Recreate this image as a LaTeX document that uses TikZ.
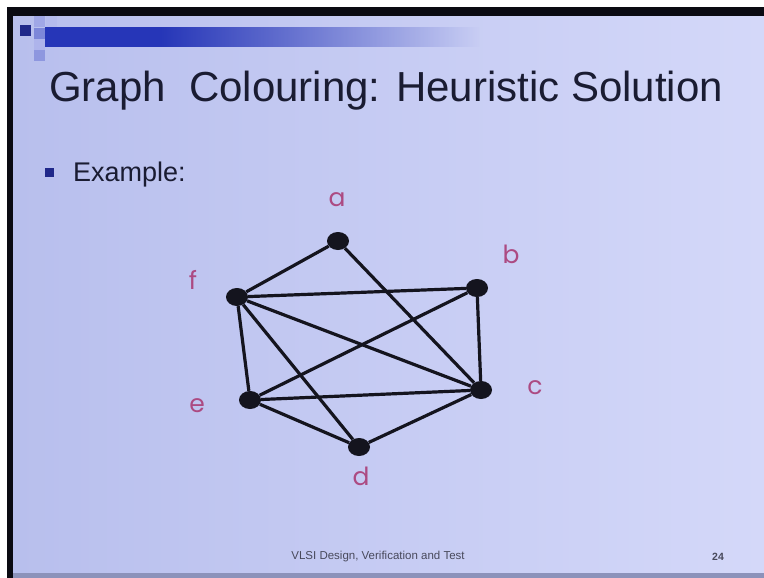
\documentclass[tikz,border=0pt]{standalone}
\usepackage{fontspec}
\setmainfont{Liberation Sans}
\newfontfamily\lblfont{Poppins}
\usepackage{tikz}
\usetikzlibrary{shapes.geometric, positioning, fadings}
\definecolor{sframe}{RGB}{10,10,18}
\definecolor{sbg}{RGB}{212,216,249}
\definecolor{sbgl}{RGB}{224,227,252}
\definecolor{sbgd}{RGB}{184,191,237}
\definecolor{sfoot}{RGB}{140,146,186}
\definecolor{snavy}{RGB}{32,40,138}
\definecolor{sbar}{RGB}{38,54,184}
\definecolor{stext}{RGB}{26,28,50}
\definecolor{spink}{RGB}{172,74,130}
\definecolor{sedge}{RGB}{20,20,30}

\begin{document}
\begin{tikzpicture}[
  x=1pt, y=-1pt,
  dot/.style={ellipse,fill=sedge,minimum width=22pt,minimum height=18pt,inner sep=0pt},
  lbl/.style={font=\lblfont\fontsize{25}{29}\selectfont,text=spink,inner sep=0pt},
  edge/.style={line width=3.2pt,color=sedge},
  sq/.style={inner sep=0pt,minimum size=11pt},
  title/.style={font=\fontsize{42}{50}\selectfont,text=stext,inner sep=0pt,anchor=base west},
  foot/.style={font=\fontsize{11.5}{13}\selectfont,text=stext!80,inner sep=0pt}
]
  \useasboundingbox (0,0) rectangle (764,578);
  \fill[white] (0,0) rectangle (764,578);
  % slide background and frame
  \shade[left color=sbgd,middle color=sbgl,right color=sbg] (13,16) rectangle (764,573);
  \fill[sframe] (7,7) rectangle (764,16);
  \fill[sframe] (7,7) rectangle (13,578);
  \fill[sfoot] (13,573) rectangle (764,578);

  % header squares and bar
  \node[sq,fill=snavy,anchor=north west] (sq1) at (20,25) {};
  \node[sq,fill=sbar!30!sbg,anchor=north west] (sq2) at (34,16) {};
  \node[sq,fill=sbar!50!sbg,below=0pt of sq2] (sq3) {};
  \node[sq,fill=sbar!22!sbg,below=0pt of sq3] (sq4) {};
  \node[sq,fill=sbar!40!sbg,below=0pt of sq4] (sq5) {};
  \node[sq,fill=sbar!18!sbg,right=0pt of sq2] (sq6) {};
  \fill[sbar] (45,27) rectangle (160,47);
  \fill[sbar,path fading=east] (160,27) rectangle (480,47);

  % titles
  \node[title] (head) at (49,102) {Graph\ \ Colouring: Heuristic Solution};
  \node[sq,fill=snavy,minimum size=9pt,anchor=north west] (bul) at (45,168) {};
  \node[title,font=\fontsize{27}{32}\selectfont] (ex) at (73,182) {Example:};

  % graph
  \node[dot] (a) at (338,241) {};
  \node[dot] (b) at (477,288) {};
  \node[dot] (c) at (481,390) {};
  \node[dot] (d) at (359,447) {};
  \node[dot] (e) at (250,400) {};
  \node[dot] (f) at (237,297) {};

  \node[lbl] (la) at (337,200) {a};
  \node[lbl] (lb) at (511,254) {b};
  \node[lbl] (lc) at (535,388) {c};
  \node[lbl] (ld) at (361,476) {d};
  \node[lbl] (le) at (197,406) {e};
  \node[lbl] (lf) at (193,280) {f};

  \draw[edge] (a)--(f);
  \draw[edge] (a)--(c);
  \draw[edge] (f)--(b);
  \draw[edge] (f)--(c);
  \draw[edge] (f)--(d);
  \draw[edge] (f)--(e);
  \draw[edge] (b)--(e);
  \draw[edge] (b)--(c);
  \draw[edge] (e)--(c);
  \draw[edge] (e)--(d);
  \draw[edge] (d)--(c);

  % footer
  \node[foot] (ft) at (378,557) {VLSI Design, Verification and Test};
  \node[foot,font=\bfseries\fontsize{10.5}{12}\selectfont] (pg) at (718,557) {24};
\end{tikzpicture}
\end{document}
